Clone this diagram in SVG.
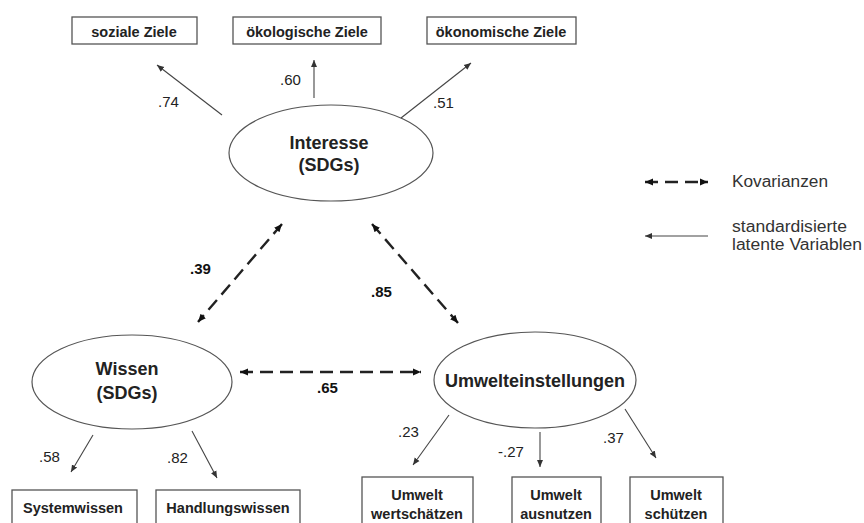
<svg xmlns="http://www.w3.org/2000/svg" width="864" height="523" viewBox="0 0 864 523">
  <style>
    .box { fill: #fff; stroke: #555; stroke-width: 1.3; }
    .lat { fill: #fff; stroke: #555; stroke-width: 1.2; }
    .boxt { font-family: "Liberation Sans", Arial, sans-serif; font-weight: bold; font-size: 14.5px; fill: #222; text-anchor: middle; }
    .latt { font-family: "Liberation Sans", Arial, sans-serif; font-weight: bold; font-size: 18px; fill: #222; text-anchor: middle; }
    .num { font-family: "Liberation Sans", Arial, sans-serif; font-size: 15px; fill: #222; }
    .numb { font-family: "Liberation Sans", Arial, sans-serif; font-weight: bold; font-size: 15px; fill: #111; }
    .leg { font-family: "Liberation Sans", Arial, sans-serif; font-size: 16px; fill: #333; }
    .load { stroke: #444; stroke-width: 1.1; fill: none; marker-end: url(#head); }
    .cov { stroke: #222; stroke-width: 2.4; fill: none; stroke-dasharray: 13 7; marker-start: url(#dhead); marker-end: url(#dhead); }
  </style>
  <defs>
    <marker id="head" markerUnits="userSpaceOnUse" markerWidth="8" markerHeight="8" refX="7" refY="4" orient="auto">
      <path d="M0,1 L7,4 L0,7 z" fill="#333"/>
    </marker>
    <marker id="dhead" markerUnits="userSpaceOnUse" markerWidth="10" markerHeight="10" refX="8" refY="5" orient="auto-start-reverse">
      <path d="M0,1.5 L8,5 L0,8.5 z" fill="#111"/>
    </marker>
  </defs>
  <rect width="864" height="523" fill="#fff"/>

  <!-- indicator boxes, top -->
  <g id="soziale-ziele">
    <rect class="box" x="72" y="17" width="125" height="27"/>
    <text class="boxt" x="134" y="37">soziale Ziele</text>
  </g>
  <g id="oekologische-ziele">
    <rect class="box" x="233" y="17" width="148" height="27"/>
    <text class="boxt" x="307" y="37">ökologische Ziele</text>
  </g>
  <g id="oekonomische-ziele">
    <rect class="box" x="427" y="17" width="149" height="27"/>
    <text class="boxt" x="501" y="37">ökonomische Ziele</text>
  </g>

  <!-- latent variables -->
  <g id="interesse">
    <ellipse class="lat" cx="331" cy="153" rx="102" ry="48"/>
    <text class="latt" x="329" y="149">Interesse</text>
    <text class="latt" x="329" y="171">(SDGs)</text>
  </g>
  <g id="wissen">
    <ellipse class="lat" cx="132" cy="382" rx="100" ry="47"/>
    <text class="latt" x="127" y="375">Wissen</text>
    <text class="latt" x="127" y="399">(SDGs)</text>
  </g>
  <g id="umwelteinstellungen">
    <ellipse class="lat" cx="535" cy="380" rx="101" ry="48"/>
    <text class="latt" x="535" y="387">Umwelteinstellungen</text>
  </g>

  <!-- indicator boxes, bottom -->
  <g id="systemwissen">
    <rect class="box" x="12" y="490" width="125" height="45"/>
    <text class="boxt" x="73" y="513" font-size="15">Systemwissen</text>
  </g>
  <g id="handlungswissen">
    <rect class="box" x="156" y="490" width="144" height="45"/>
    <text class="boxt" x="228" y="513" font-size="15">Handlungswissen</text>
  </g>
  <g id="umwelt-wertschaetzen">
    <rect class="box" x="362" y="477" width="111" height="55"/>
    <text class="boxt" x="417" y="500">Umwelt</text>
    <text class="boxt" x="417" y="519">wertschätzen</text>
  </g>
  <g id="umwelt-ausnutzen">
    <rect class="box" x="512" y="477" width="89" height="55"/>
    <text class="boxt" x="556" y="500">Umwelt</text>
    <text class="boxt" x="556" y="519">ausnutzen</text>
  </g>
  <g id="umwelt-schuetzen">
    <rect class="box" x="630" y="477" width="93" height="55"/>
    <text class="boxt" x="676" y="500">Umwelt</text>
    <text class="boxt" x="676" y="519">schützen</text>
  </g>

  <!-- connectors -->
  <g id="connectors">
    <line class="load" x1="222" y1="115" x2="157" y2="65"/>
    <line class="load" x1="314" y1="98" x2="314" y2="60"/>
    <line class="load" x1="401" y1="118" x2="471" y2="63"/>
    <line class="load" x1="93" y1="435" x2="71" y2="472"/>
    <line class="load" x1="192" y1="431" x2="217" y2="478"/>
    <line class="load" x1="449" y1="415" x2="413" y2="465"/>
    <line class="load" x1="540" y1="432" x2="540" y2="467"/>
    <line class="load" x1="625" y1="409" x2="656" y2="458"/>
    <line class="cov" x1="282" y1="224" x2="198" y2="322"/>
    <line class="cov" x1="372" y1="224" x2="458" y2="323"/>
    <line class="cov" x1="240" y1="372" x2="421" y2="372"/>
  </g>

  <!-- coefficients -->
  <g id="coefficients">
    <text class="num" x="158" y="107">.74</text>
    <text class="num" x="280" y="85">.60</text>
    <text class="num" x="433" y="108">.51</text>
    <text class="num" x="39" y="462">.58</text>
    <text class="num" x="167" y="463">.82</text>
    <text class="num" x="398" y="437">.23</text>
    <text class="num" x="498" y="457">-.27</text>
    <text class="num" x="603" y="443">.37</text>
    <text class="numb" x="190" y="274">.39</text>
    <text class="numb" x="371" y="297">.85</text>
    <text class="numb" x="317" y="393">.65</text>
  </g>

  <!-- legend -->
  <g id="legend">
    <line class="cov" x1="645" y1="182" x2="708" y2="182"/>
    <text class="leg" x="732" y="187" textLength="96" lengthAdjust="spacingAndGlyphs">Kovarianzen</text>
    <line class="load" x1="708" y1="236" x2="645" y2="236"/>
    <text class="leg" x="732" y="232" textLength="115" lengthAdjust="spacingAndGlyphs">standardisierte</text>
    <text class="leg" x="732" y="250" textLength="130" lengthAdjust="spacingAndGlyphs">latente Variablen</text>
  </g>
</svg>
